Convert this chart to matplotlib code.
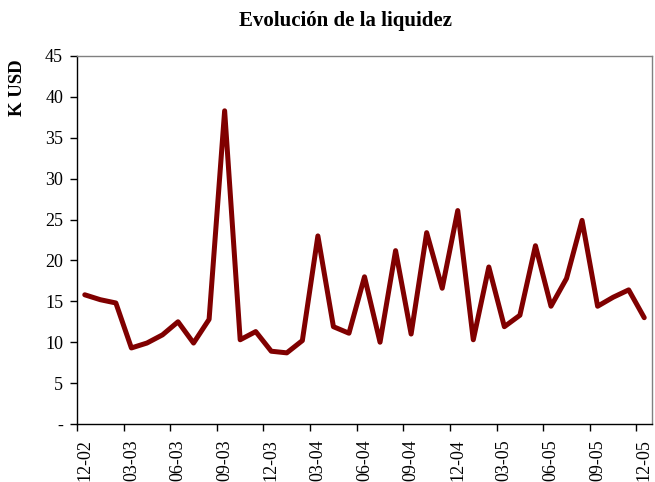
import matplotlib
matplotlib.use("Agg")
import matplotlib.pyplot as plt
import numpy as np

# Monthly liquidity, Dec 2002 - Dec 2005 (K USD)
months = ['12-02', '01-03', '02-03', '03-03', '04-03', '05-03', '06-03', '07-03', '08-03',
          '09-03', '10-03', '11-03', '12-03', '01-04', '02-04', '03-04', '04-04', '05-04',
          '06-04', '07-04', '08-04', '09-04', '10-04', '11-04', '12-04', '01-05', '02-05',
          '03-05', '04-05', '05-05', '06-05', '07-05', '08-05', '09-05', '10-05', '11-05',
          '12-05']
liquidez = [15.8, 15.2, 14.8, 9.3, 9.9, 10.9, 12.5, 9.9, 12.8, 38.3, 10.3, 11.3, 8.9,
            8.7, 10.2, 23.0, 11.9, 11.1, 18.0, 10.0, 21.2, 11.0, 23.4, 16.6, 26.1, 10.3,
            19.2, 11.9, 13.3, 21.8, 14.4, 17.8, 24.9, 14.4, 15.5, 16.4, 13.0]
y_ticks = [0, 5, 10, 15, 20, 25, 30, 35, 40, 45]
y_labels = ['-', '5', '10', '15', '20', '25', '30', '35', '40', '45']

plt.rcParams['font.family'] = ['Liberation Serif', 'DejaVu Serif']

fig = plt.figure(figsize=(6.55, 4.82), dpi=100)
ax = fig.add_axes([77 / 655, 1 - 424 / 482, (652 - 77) / 655, (424 - 56) / 482])

x = np.arange(len(liquidez))
ax.plot(x, liquidez, color='#800000', linewidth=3.6, solid_joinstyle='round',
        solid_capstyle='round')

ax.set_xlim(-0.5, len(liquidez) - 0.5)
ax.set_ylim(0, 45)

# tick marks at category boundaries, labels at category centres
ax.set_xticks(np.arange(-0.5, len(liquidez) - 0.5, 3))
ax.set_xticklabels([])
ax.set_xticks(x[::3], minor=True)
ax.set_xticklabels(months[::3], minor=True, rotation=90, fontsize=13)
ax.tick_params(axis='x', which='major', direction='out', length=5, width=1)
ax.tick_params(axis='x', which='minor', length=0, pad=11)

ax.set_yticks(y_ticks)
ax.set_yticklabels(y_labels, fontsize=13)
ax.tick_params(axis='y', direction='out', length=5, width=1, pad=5)

for side in ['left', 'bottom']:
    ax.spines[side].set_color('black')
    ax.spines[side].set_linewidth(1)
for side in ['top', 'right']:
    ax.spines[side].set_color('#808080')
    ax.spines[side].set_linewidth(1)

fig.text(346 / 655, 1 - 21 / 482, 'Evolución de la liquidez', ha='center', va='center',
         fontsize=15, fontweight='bold')
fig.text(18 / 655, 1 - 88 / 482, 'K USD', rotation=90, ha='center', va='center',
         fontsize=13.5, fontweight='bold')

fig.savefig('out.png', dpi=100)
